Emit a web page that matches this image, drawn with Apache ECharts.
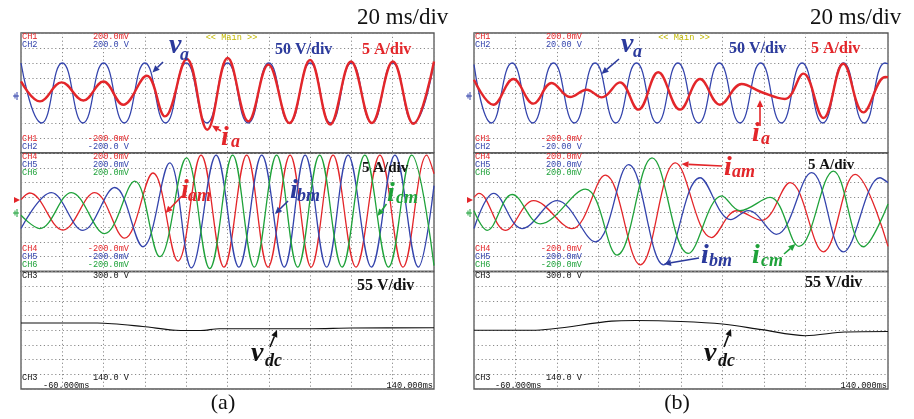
<!DOCTYPE html>
<html><head><meta charset="utf-8">
<script src="https://cdn.jsdelivr.net/npm/echarts@6/dist/echarts.min.js"></script>
<style>html,body{margin:0;padding:0;background:#fff}#c{width:914px;height:419px}</style>
</head><body><div id="c"></div>
<script>
// ---- axes (ms on x, divisions on y) ----
const timeMin = -60, timeMax = 140, timeStep = 20;
const divMin = -4, divMax = 4, divStep = 1;

// ---- panel (a): [time ms, value in divisions] read at extrema ----
const a_va = [[-60,2],[-50,-2],[-40,2],[-30,-2],[-20,2],[-10,-2],[0,2],[10,-2],[20,2],[30,-2],[40,2],[50,-2],[60,2],[70,-2],[80,2],[90,-2],[100,2],[110,-2],[120,2],[130,-2],[140,2]];
const a_ia = [[-60,0.77],[-50.8,-0.56],[-40.3,0.71],[-29.8,-0.5],[-20.1,0.77],[-10.5,-0.78],[0.9,1.15],[9.7,-1.56],[20.3,2.27],[30.2,-2.45],[40.1,2.33],[50.1,-1.89],[59.8,1.89],[70,-2.0],[80,2.2],[89.7,-2.1],[99.8,2.1],[109.9,-2.0],[120.1,2.1],[130,-2.05],[140,2.1]];
const a_iam = [[-60,0.85],[-55.8,1.3],[-39.7,-1.2],[-24.3,1.33],[-9.8,-1.75],[3.9,2.65],[16,-3.3],[27.2,3.85],[38.3,-3.7],[49.3,3.85],[59.6,-3.7],[70.3,3.85],[80.5,-3.7],[91.1,3.85],[102.2,-3.7],[113.8,3.85],[125,-3.7],[136.5,3.85],[140,2.6]];
const a_ibm = [[-60,-1.1],[-45.3,1.33],[-30,-1.22],[-14.6,1.67],[-0.9,-2.33],[12,3.33],[22.5,-3.75],[34.5,3.85],[45.5,-3.7],[56.6,3.85],[67.5,-3.7],[77.6,3.85],[88,-3.7],[98.4,3.85],[109.7,-3.7],[121.1,3.85],[132.4,-3.7],[140,1.8]];
const a_icm = [[-60,-0.2],[-50.9,-1.1],[-35.6,1.33],[-19.5,-1.44],[-4.9,2.1],[7.2,-3.0],[20.1,3.67],[31.4,-3.8],[42.5,3.85],[53,-3.7],[63.8,3.85],[74,-3.7],[84.6,3.85],[95.5,-3.7],[106.5,3.85],[118,-3.7],[129.2,3.85],[140,-3.6]];
const a_vdc = [[-60,0.49],[-23,0.49],[-1,0.26],[15,0.0],[27,-0.02],[36,0.1],[80,0.1],[100,0.15],[140,0.17]];

// ---- panel (b) ----
const b_va = [[-60,1.9],[-51.6,-2],[-41.6,2],[-31.6,-2],[-21.6,2],[-11.5,-2],[-1.5,2],[8.5,-2],[18.5,2],[28.5,-2],[38.5,2],[48.5,-2],[58.5,2],[68.5,-2],[78.5,2],[88.5,-2],[98.5,2],[108.5,-2],[118.5,2],[128.5,-2],[138.5,2],[140,1.95]];
const b_ia = [[-60,0.89],[-50.7,-0.78],[-41,0.93],[-31.3,-0.71],[-22.5,0.67],[-13.6,-0.27],[-5.6,0.22],[1.7,-0.29],[10.5,0.71],[19.4,-1.11],[29,1.38],[39.5,-1.11],[49.2,0.93],[58.8,-0.78],[69.3,0.6],[79,0.05],[90.2,-0.4],[99.1,1.29],[108.8,-1.67],[118.4,1.95],[128.1,-1.29],[138.6,1.07],[140,1.05]];
const b_iam = [[-60,1.0],[-57.7,1.27],[-44.9,-1.22],[-31.2,0.78],[-12.7,-1.11],[3.4,2.51],[20.3,-3.55],[37.3,3.33],[54.8,-1.71],[66.9,0.1],[79,-0.55],[92.7,2.0],[108.8,-2.67],[124.1,2.56],[140,-2.3]];
const b_ibm = [[-60,-1.1],[-50.5,1.27],[-36.8,-1.1],[-19.9,0.78],[-1.4,-2.0],[14.7,3.22],[31.6,-3.55],[49.2,2.33],[64,-0.5],[72.5,0.11],[86,-1.5],[103.1,2.67],[118.4,-2.67],[136.1,2.33],[140,2.0]];
const b_icm = [[-60,0.1],[-53.7,-1.22],[-41.6,1.2],[-28,-0.78],[-6.2,1.56],[9.1,-2.89],[26,3.67],[43.5,-2.78],[59.7,1.11],[68.5,0.11],[83,1.0],[97,-2.3],[113.6,2.78],[128.1,-2.33],[140,0.56]];
const b_vdc = [[-60,0],[-32,0.0],[6.5,0.62],[18,0.66],[40,0.6],[60,0.43],[79,0.04],[100,-0.37],[119,-0.12],[140,-0.08]];

// ---- scope readout texts ----
const topScaleA = ['200.0mV','200.0 V','-200.0mV','-200.0 V'];
const topScaleB = ['200.0mV','20.00 V','-200.0mV','-20.00 V'];
const midScale = ['200.0mV','-200.0mV'];
const dcScale = ['300.0 V','140.0 V'];
const timeLabels = ['-60.000ms','140.000ms'];

const RED='#e3262a', BLUE='#3444ac', GREEN='#1fa23a', BLK='#111', TBLUE='#2b3a9c';
const MONO='"Liberation Mono", "DejaVu Sans Mono", monospace';
const SERIF='"Liberation Serif", "DejaVu Serif", serif';

const panels = [
  {left:21, width:413},
  {left:474, width:414}
];
const rows = [
  {top:33, height:120},
  {top:153, height:118.5},
  {top:271.5, height:117.5}
];

const grids=[], xAxes=[], yAxes=[], series=[];
const dotted = {show:true, lineStyle:{color:'#8a8a8a', type:[1.2,2.6], width:1}};
panels.forEach((p,pi)=>{
  rows.forEach((r,ri)=>{
    const gi = grids.length;
    grids.push({left:p.left, width:p.width, top:r.top, height:r.height, show:true, borderColor:'#555', borderWidth:1.3, backgroundColor:'transparent'});
    xAxes.push({type:'value', gridIndex:gi, min:timeMin, max:timeMax, interval:timeStep, axisLine:{show:false}, axisTick:{show:false}, axisLabel:{show:false}, splitLine:dotted});
    yAxes.push({type:'value', gridIndex:gi, min:divMin, max:divMax, interval:divStep, axisLine:{show:false}, axisTick:{show:false}, axisLabel:{show:false}, splitLine:dotted});
  });
});
function wave(gi, data, color, width, smooth){
  series.push({type:'line', xAxisIndex:gi, yAxisIndex:gi, data:data, showSymbol:false, symbol:'none', smooth:smooth, lineStyle:{color:color, width:width}, animation:false, silent:true, z:3});
}
wave(0, a_va, BLUE, 1.3, 0.5);
wave(0, a_ia, RED, 2.4, 0.4);
wave(1, a_iam, RED, 1.3, 0.38);
wave(1, a_ibm, BLUE, 1.3, 0.38);
wave(1, a_icm, GREEN, 1.3, 0.38);
wave(2, a_vdc, BLK, 1.1, 0.3);
wave(3, b_va, BLUE, 1.3, 0.5);
wave(3, b_ia, RED, 2.4, 0.4);
wave(4, b_iam, RED, 1.3, 0.38);
wave(4, b_ibm, BLUE, 1.3, 0.38);
wave(4, b_icm, GREEN, 1.3, 0.38);
wave(5, b_vdc, BLK, 1.1, 0.3);

// ---- graphic helpers ----
const G=[];
function txt(x, base, s, size, font, color, align, extraStyle){
  G.push({type:'text', x:x, y:base-0.33*size, z:10, silent:true,
    style:Object.assign({text:s, font:font.replace('SZ', size+'px'), fill:color, align:align||'left', verticalAlign:'middle', textAlign:align||'left', textVerticalAlign:'middle'}, extraStyle||{})});
}
function sym(x, base, main, sub, color, mainX2, subBase, size, subSize){
  txt(x, base, main, size||28, 'italic bold SZ '+SERIF, color);
  txt(mainX2, subBase, sub, subSize||18, 'italic bold SZ '+SERIF, color);
}
function arrow(x1,y1,x2,y2,color){
  const a=Math.atan2(y2-y1,x2-x1), L=7, W=3.2, c=Math.cos(a), s=Math.sin(a);
  const bx=x2-L*c, by=y2-L*s;
  G.push({type:'line', z:10, silent:true, shape:{x1:x1,y1:y1,x2:bx,y2:by}, style:{stroke:color, lineWidth:1.6}});
  G.push({type:'polygon', z:10, silent:true, shape:{points:[[x2,y2],[bx-W*s,by+W*c],[bx+W*s,by-W*c]]}, style:{fill:color}});
}
function scopeText(L, valR, tmsL, tmsR, topScale){
  const f='SZ '+MONO, sz=8.6;
  txt(L+1, 40, 'CH1', sz, f, RED); txt(valR, 40, topScale[0], sz, f, RED, 'right');
  txt(L+1, 48, 'CH2', sz, f, BLUE); txt(valR, 48, topScale[1], sz, f, BLUE, 'right');
  txt(L+1, 142, 'CH1', sz, f, RED); txt(valR, 142, topScale[2], sz, f, RED, 'right');
  txt(L+1, 149.5, 'CH2', sz, f, BLUE); txt(valR, 149.5, topScale[3], sz, f, BLUE, 'right');
  txt(L+1, 159.5, 'CH4', sz, f, RED); txt(valR, 159.5, midScale[0], sz, f, RED, 'right');
  txt(L+1, 167.5, 'CH5', sz, f, BLUE); txt(valR, 167.5, midScale[0], sz, f, BLUE, 'right');
  txt(L+1, 175.5, 'CH6', sz, f, GREEN); txt(valR, 175.5, midScale[0], sz, f, GREEN, 'right');
  txt(L+1, 252, 'CH4', sz, f, RED); txt(valR, 252, midScale[1], sz, f, RED, 'right');
  txt(L+1, 260, 'CH5', sz, f, BLUE); txt(valR, 260, midScale[1], sz, f, BLUE, 'right');
  txt(L+1, 268, 'CH6', sz, f, GREEN); txt(valR, 268, midScale[1], sz, f, GREEN, 'right');
  txt(L+1, 278.5, 'CH3', sz, f, BLK); txt(valR, 278.5, dcScale[0], sz, f, BLK, 'right');
  txt(L+1, 380.5, 'CH3', sz, f, BLK); txt(valR, 380.5, dcScale[1], sz, f, BLK, 'right');
  txt(tmsL, 388.5, timeLabels[0], sz, f, BLK);
  txt(tmsR, 388.5, timeLabels[1], sz, f, BLK, 'right');
}
function markers(L){
  G.push({type:'line', silent:true, shape:{x1:L-8,y1:96,x2:L-2,y2:96}, style:{stroke:BLUE,lineWidth:1}});
  G.push({type:'line', silent:true, shape:{x1:L-4,y1:92,x2:L-4,y2:100}, style:{stroke:BLUE,lineWidth:1}});
  G.push({type:'line', silent:true, shape:{x1:L-6,y1:93.5,x2:L-6,y2:98.5}, style:{stroke:BLUE,lineWidth:1}});
  G.push({type:'polygon', silent:true, shape:{points:[[L-7,197],[L-1,200],[L-7,203]]}, style:{fill:RED}});
  G.push({type:'line', silent:true, shape:{x1:L-8,y1:213,x2:L-2,y2:213}, style:{stroke:GREEN,lineWidth:1}});
  G.push({type:'line', silent:true, shape:{x1:L-4,y1:209,x2:L-4,y2:217}, style:{stroke:GREEN,lineWidth:1}});
  G.push({type:'line', silent:true, shape:{x1:L-6,y1:210.5,x2:L-6,y2:215.5}, style:{stroke:GREEN,lineWidth:1}});
}

// panel (a) annotations
scopeText(21, 129, 43, 433, topScaleA);
markers(21);
txt(357, 26, '20 ms/div', 23, 'SZ '+SERIF, '#111');
txt(223, 410, '(a)', 22, 'SZ '+SERIF, '#111', 'center');
txt(231.5, 40.5, '<< Main >>', 8.6, 'SZ '+MONO, '#c2b800', 'center');
txt(275, 55, '50 V/div', 16, 'bold SZ '+SERIF, TBLUE);
txt(362, 55, '5 A/div', 16, 'bold SZ '+SERIF, RED);
txt(362, 173, '5 A/div', 15, 'bold SZ '+SERIF, BLK);
txt(357, 291, '55 V/div', 16, 'bold SZ '+SERIF, BLK);
sym(169, 55, 'v', 'a', TBLUE, 180, 61);
arrow(163,62,152.5,72.5,TBLUE);
sym(221, 147, 'i', 'a', RED, 231, 148.5);
arrow(221,131,212,125.5,RED);
sym(181, 200, 'i', 'am', RED, 188, 202);
arrow(182,196,165.5,213,RED);
sym(290, 200, 'i', 'bm', TBLUE, 297, 202);
arrow(288,201,275,214,TBLUE);
sym(387, 203, 'i', 'cm', GREEN, 396, 204.5);
arrow(386.5,204,377.5,216,GREEN);
sym(251, 363, 'v', 'dc', BLK, 265, 367.5);
arrow(270,347,277,330,BLK);

// panel (b) annotations
scopeText(474, 582, 495, 887, topScaleB);
markers(474);
txt(810, 26, '20 ms/div', 23, 'SZ '+SERIF, '#111');
txt(677, 410, '(b)', 22, 'SZ '+SERIF, '#111', 'center');
txt(684, 40.5, '<< Main >>', 8.6, 'SZ '+MONO, '#c2b800', 'center');
txt(729, 54, '50 V/div', 16, 'bold SZ '+SERIF, TBLUE);
txt(811, 54, '5 A/div', 16, 'bold SZ '+SERIF, RED);
txt(808, 170, '5 A/div', 15, 'bold SZ '+SERIF, BLK);
txt(805, 288, '55 V/div', 16, 'bold SZ '+SERIF, BLK);
sym(621, 54, 'v', 'a', TBLUE, 633, 58.5);
arrow(619,59,601.5,74,TBLUE);
sym(752, 143, 'i', 'a', RED, 761, 145.5);
arrow(760,126,760,100,RED);
sym(724, 177, 'i', 'am', RED, 732, 178.5);
arrow(722,166,681.5,164,RED);
sym(701, 265, 'i', 'bm', TBLUE, 709, 267);
arrow(699,258,664,264,TBLUE);
sym(752, 265, 'i', 'cm', GREEN, 761, 267);
arrow(784,254,795.5,244,GREEN);
sym(704, 363, 'v', 'dc', BLK, 718, 367.5);
arrow(724,347,731,329,BLK);

const chart = echarts.init(document.getElementById('c'), null, {renderer:'canvas'});
chart.setOption({
  animation:false,
  backgroundColor:'#fff',
  grid:grids, xAxis:xAxes, yAxis:yAxes, series:series,
  graphic:{elements:G}
});
</script>
</body></html>
